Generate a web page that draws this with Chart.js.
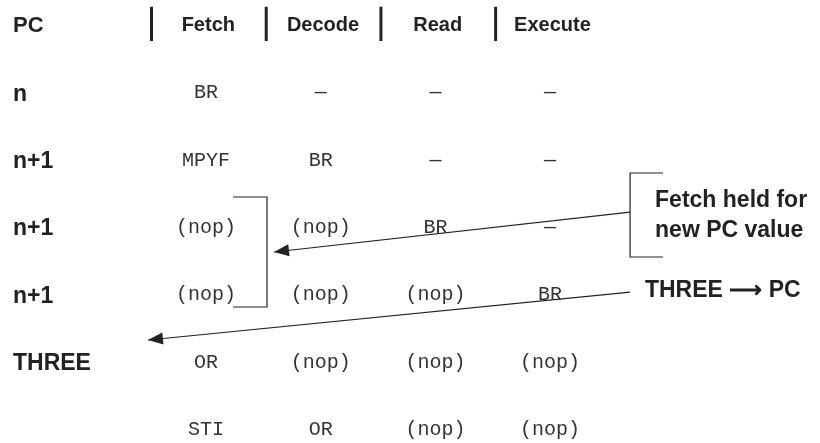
<!DOCTYPE html>
<html lang="en">
<head>
    <meta charset="UTF-8">
    <title>Pipeline</title>
    <script src="https://cdn.jsdelivr.net/npm/chart.js"></script>
    <style>
        body { margin: 0; background: #fff; }
        #wrap { width: 820px; height: 443px; position: relative; }
    </style>
</head>
<body>
    <div id="wrap"><canvas id="myChart"></canvas></div>
    <script>
        // pipeline table
        const stages = ['Fetch', 'Decode', 'Read', 'Execute'];
        const pcLabels = ['n', 'n+1', 'n+1', 'n+1', 'THREE', ''];
        const fetchCol = ['BR', 'MPYF', '(nop)', '(nop)', 'OR', 'STI'];
        const decodeCol = ['\u2014', 'BR', '(nop)', '(nop)', '(nop)', 'OR'];
        const readCol = ['\u2014', '\u2014', 'BR', '(nop)', '(nop)', '(nop)'];
        const executeCol = ['\u2014', '\u2014', '\u2014', 'BR', '(nop)', '(nop)'];
        const notes = ['Fetch held for', 'new PC value', 'THREE \u27F6 PC'];

        const columns = [fetchCol, decodeCol, readCol, executeCol];
        const ink = '#222';

        const cells = [];
        columns.forEach((col, c) => col.forEach((txt, r) => cells.push({ x: c, y: r, txt })));

        const lineDs = (pts, w, arrow) => ({
            type: 'line', data: pts, borderColor: ink, borderWidth: w,
            pointRadius: 0, fill: false, tension: 0, arrow: !!arrow
        });

        const datasets = [
            { type: 'scatter', data: cells, pointRadius: 0, cells: true },
            // header separators
            ...stages.map((s, i) => lineDs([{ x: i - 0.475, y: -1.28 }, { x: i - 0.475, y: -0.77 }], 3)),
            // bracket round fetch (nop)s
            lineDs([{ x: 0.235, y: 1.543 }, { x: 0.532, y: 1.543 }, { x: 0.532, y: 3.175 }, { x: 0.235, y: 3.175 }], 1.2),
            // bracket of the note
            lineDs([{ x: 3.984, y: 1.187 }, { x: 3.697, y: 1.187 }, { x: 3.697, y: 2.433 }, { x: 3.984, y: 2.433 }], 1.2),
            lineDs([{ x: 3.697, y: 1.766 }, { x: 0.593, y: 2.359 }], 1.2, true),
            lineDs([{ x: 3.697, y: 2.953 }, { x: -0.506, y: 3.665 }], 1.2, true)
        ];

        const textPlugin = {
            id: 'texts',
            afterDatasetsDraw(chart) {
                const { ctx, scales: { x, y } } = chart;
                ctx.save();
                ctx.textBaseline = 'middle';
                ctx.fillStyle = ink;
                // header
                ctx.font = 'bold 22px "Liberation Sans", Arial, sans-serif';
                ctx.textAlign = 'left';
                ctx.fillText('PC', 13, y.getPixelForValue(-1.0));
                ctx.font = 'bold 20px "Liberation Sans", Arial, sans-serif';
                ctx.textAlign = 'center';
                stages.forEach((s, i) => ctx.fillText(s, x.getPixelForValue(i + 0.02), y.getPixelForValue(-1.0)));
                // row labels
                ctx.font = 'bold 23px "Liberation Sans", Arial, sans-serif';
                ctx.textAlign = 'left';
                pcLabels.forEach((l, r) => ctx.fillText(l, 13, y.getPixelForValue(r + 0.02)));
                // cells
                chart.data.datasets.forEach((ds, i) => {
                    if (!ds.cells) return;
                    ctx.font = '20px "Liberation Mono", "Courier New", monospace';
                    ctx.fillStyle = '#333';
                    ctx.textAlign = 'center';
                    chart.getDatasetMeta(i).data.forEach((pt, j) => ctx.fillText(ds.data[j].txt, pt.x, pt.y));
                });
                // notes
                ctx.fillStyle = ink;
                ctx.font = 'bold 23px "Liberation Sans", Arial, sans-serif';
                ctx.textAlign = 'left';
                ctx.fillText(notes[0], x.getPixelForValue(3.915), y.getPixelForValue(1.59));
                ctx.fillText(notes[1], x.getPixelForValue(3.915), y.getPixelForValue(2.04));
                ctx.fillText(notes[2], x.getPixelForValue(3.827), y.getPixelForValue(2.94));
                // arrow heads
                chart.data.datasets.forEach((ds, i) => {
                    if (!ds.arrow) return;
                    const pts = chart.getDatasetMeta(i).data;
                    const a = pts[pts.length - 2], b = pts[pts.length - 1];
                    const ang = Math.atan2(b.y - a.y, b.x - a.x);
                    const len = 15, half = 6;
                    ctx.beginPath();
                    ctx.moveTo(b.x, b.y);
                    ctx.lineTo(b.x - len * Math.cos(ang) + half * Math.sin(ang), b.y - len * Math.sin(ang) - half * Math.cos(ang));
                    ctx.lineTo(b.x - len * Math.cos(ang) - half * Math.sin(ang), b.y - len * Math.sin(ang) + half * Math.cos(ang));
                    ctx.closePath();
                    ctx.fill();
                });
                ctx.restore();
            }
        };

        const myChart = new Chart(document.getElementById('myChart'), {
            data: { datasets },
            options: {
                responsive: true,
                maintainAspectRatio: false,
                animation: false,
                layout: { padding: 0 },
                plugins: { legend: { display: false }, tooltip: { enabled: false } },
                scales: {
                    x: { type: 'linear', display: false, min: -1.796, max: 5.353 },
                    y: { type: 'linear', display: false, reverse: true, min: -1.38, max: 5.193 }
                }
            },
            plugins: [textPlugin]
        });
    </script>
</body>
</html>
